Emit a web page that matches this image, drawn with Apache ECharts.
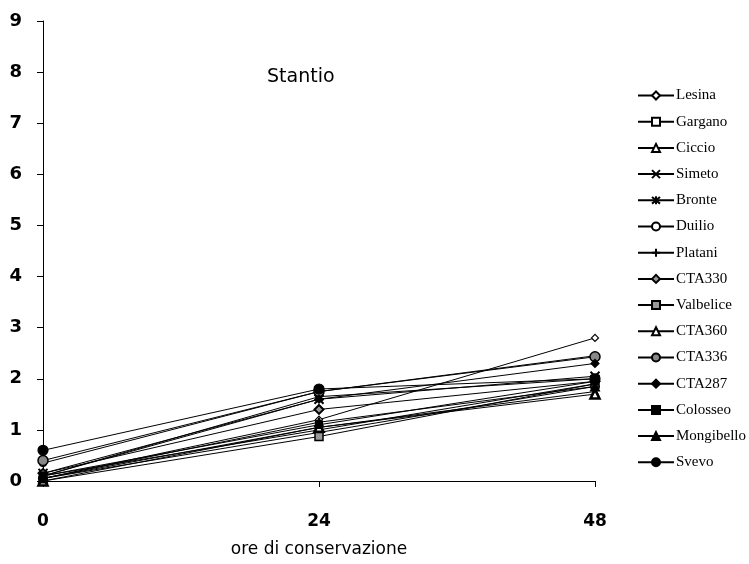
<!DOCTYPE html>
<html><head><meta charset="utf-8">
<script src="https://cdn.jsdelivr.net/npm/echarts@6/dist/echarts.min.js"></script>
<style>html,body{margin:0;padding:0;background:#fff}#c{width:749px;height:564px}</style>
</head><body><div id="c"></div>
<script>
const hours = [0, 24, 48];
const xTicks = [0, 24, 48];
const yTicks = [0,1,2,3,4,5,6,7,8,9];
const names = ["Lesina","Gargano","Ciccio","Simeto","Bronte","Duilio","Platani","CTA330","Valbelice","CTA360","CTA336","CTA287","Colosseo","Mongibello","Svevo"];
const Lesina     = [0.05, 1.20, 2.80];
const Gargano    = [0.10, 1.00, 1.90];
const Ciccio     = [0.05, 1.05, 1.75];
const Simeto     = [0.15, 1.60, 2.05];
const Bronte     = [0.10, 1.65, 2.00];
const Duilio     = [0.35, 1.75, 2.45];
const Platani    = [0.05, 0.95, 1.85];
const CTA330     = [0.15, 1.40, 1.95];
const Valbelice  = [0.00, 0.87, 1.90];
const CTA360     = [0.00, 1.05, 1.70];
const CTA336     = [0.40, 1.75, 2.43];
const CTA287     = [0.10, 1.60, 2.30];
const Colosseo   = [0.10, 1.10, 1.95];
const Mongibello = [0.05, 1.15, 1.85];
const Svevo      = [0.60, 1.80, 2.00];
const values = [Lesina,Gargano,Ciccio,Simeto,Bronte,Duilio,Platani,CTA330,Valbelice,CTA360,CTA336,CTA287,Colosseo,Mongibello,Svevo];

const X = 'path://M0,0L10,10M10,0L0,10';
const STAR = 'path://M0,0L10,10M10,0L0,10M5,-1L5,11';
const PLUS = 'path://M5,0L5,10M0,5L10,5';
const styles = [
  {s:'diamond', fill:'#fff', size:7},
  {s:'rect', fill:'#fff', size:6},
  {s:'triangle', fill:'#fff', size:7},
  {s:X, fill:'none', size:9, bw:2},
  {s:STAR, fill:'none', size:9, bw:2.2},
  {s:'circle', fill:'#fff', size:7},
  {s:PLUS, fill:'none', size:10, bw:1.5},
  {s:'diamond', fill:'#999', size:9, bw:2},
  {s:'rect', fill:'#999', size:8, bw:1.5},
  {s:'triangle', fill:'#fff', size:9, bw:2.5},
  {s:'circle', fill:'#888', size:10, bw:1.5},
  {s:'diamond', fill:'#000', size:8},
  {s:'rect', fill:'#000', size:7},
  {s:'triangle', fill:'#000', size:9},
  {s:'circle', fill:'#000', size:10}
];

const series = names.map((n,i)=>({
  name:n, type:'line',
  data: hours.map((h,j)=>[h, values[i][j]]),
  symbol: styles[i].s,
  symbolSize: styles[i].size,
  showAllSymbol:true,
  lineStyle:{color:'#000', width:1},
  itemStyle:{color: styles[i].fill==='none' ? 'rgba(0,0,0,0)' : styles[i].fill, borderColor:'#000', borderWidth: styles[i].bw || 1.2, opacity:1},
  emphasis:{disabled:true},
  animation:false
}));

const chart = echarts.init(document.getElementById('c'));
chart.setOption({
  backgroundColor:'#fff',
  animation:false,
  title:{text:'Stantio', left:262, top:63, textStyle:{fontFamily:'DejaVu Sans', fontSize:19, fontWeight:'normal', color:'#000'}},
  grid:{left:43, right:154, top:21, bottom:83, outerBoundsMode:'none', containLabel:false},
  legend:{
    orient:'vertical', left:632, top:83, itemGap:11.2, itemWidth:36, itemHeight:10,
    textStyle:{fontFamily:'Liberation Serif', fontSize:15, color:'#000', padding:[0,0,0,-3]},
    data: names.map(n=>({name:n})),
    selectedMode:false
  },
  xAxis:{
    type:'value', min:0, max:48, interval:24,
    name:'ore di conservazione', nameLocation:'middle', nameGap:60,
    nameTextStyle:{fontFamily:'DejaVu Sans', fontSize:17, color:'#000'},
    axisLine:{lineStyle:{color:'#000', width:1}},
    axisTick:{show:true, length:6, lineStyle:{color:'#000'}},
    axisLabel:{fontFamily:'DejaVu Sans', fontWeight:'bold', fontSize:17, color:'#000', margin:32,
      customValues: xTicks},
    splitLine:{show:false}
  },
  yAxis:{
    type:'value', min:0, max:9, interval:1,
    axisLine:{show:true, lineStyle:{color:'#000', width:1}},
    axisTick:{show:true, length:6, lineStyle:{color:'#000'}},
    axisLabel:{fontFamily:'DejaVu Sans', fontWeight:'bold', fontSize:18, color:'#000', margin:21,
      customValues: yTicks},
    splitLine:{show:false}
  },
  series: series
});
</script>
</body></html>
